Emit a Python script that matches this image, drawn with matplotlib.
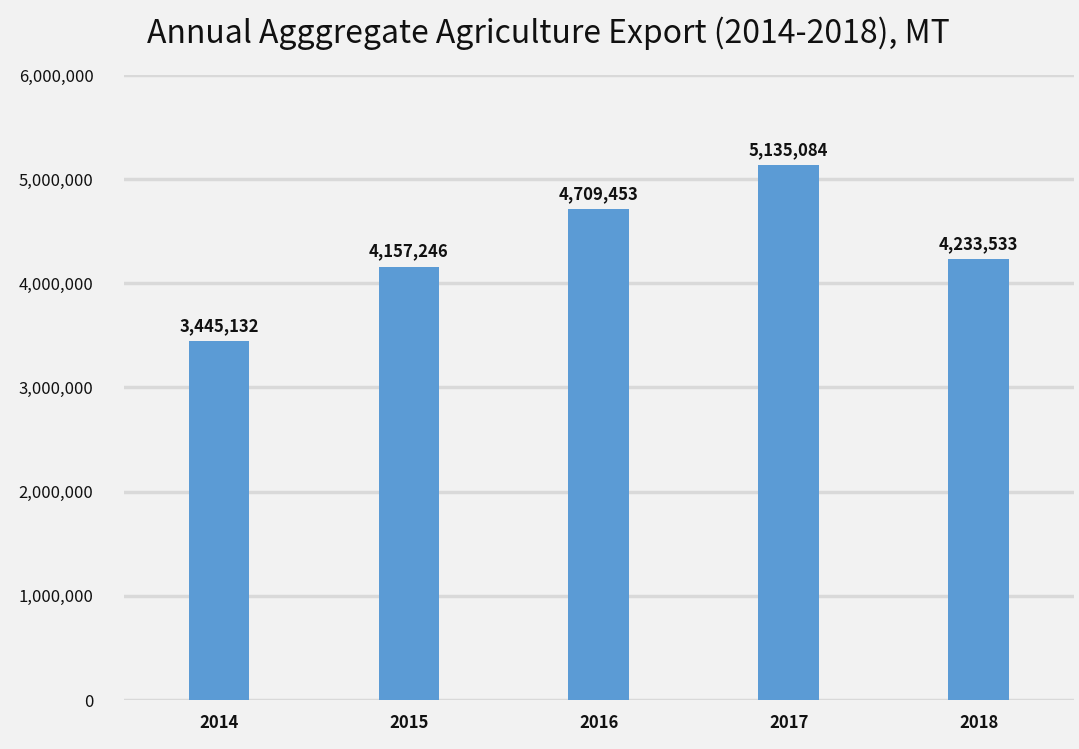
import matplotlib
matplotlib.use("Agg")
import matplotlib.pyplot as plt
from matplotlib.ticker import FuncFormatter

years = ["2014", "2015", "2016", "2017", "2018"]
exports = [3445132, 4157246, 4709453, 5135084, 4233533]
yticks = [0, 1000000, 2000000, 3000000, 4000000, 5000000, 6000000]

plt.rcParams['font.family'] = ['Noto Sans CJK KR', 'DejaVu Sans']

bg = '#F2F2F2'
fig = plt.figure(figsize=(10.79, 7.49), dpi=100, facecolor=bg)
ax = fig.add_axes([0.115, 0.0654, 0.88, 0.8345], facecolor=bg)

x = list(range(len(years)))
bars = ax.bar(x, exports, width=0.32, color='#5B9BD5', zorder=3)

for xi, v in zip(x, exports):
    ax.text(xi, v + 60000, f"{v:,}", ha='center', va='bottom',
            fontsize=12, fontweight='bold', color='#111111')

ax.set_ylim(0, 6000000)
ax.set_xlim(-0.5, len(years) - 0.5)
ax.set_yticks(yticks)
ax.yaxis.set_major_formatter(FuncFormatter(lambda v, p: f"{int(v):,}"))
ax.set_xticks(x)
ax.set_xticklabels(years, fontweight='bold')
ax.tick_params(axis='y', length=0, pad=22, labelsize=12, labelcolor='#111111')
ax.tick_params(axis='x', length=0, pad=10, labelsize=12, labelcolor='#111111')
for lbl in ax.get_yticklabels():
    lbl.set_fontweight('medium')

ax.grid(axis='y', color='#D9D9D9', linewidth=2.5, zorder=0)
for s in ax.spines.values():
    s.set_visible(False)

fig.text(0.508, 0.955, "Annual Agggregate Agriculture Export (2014-2018), MT",
         ha='center', va='center', fontsize=23, fontweight='medium', color='#111111')

fig.savefig("out.png", dpi=100, facecolor=bg)
